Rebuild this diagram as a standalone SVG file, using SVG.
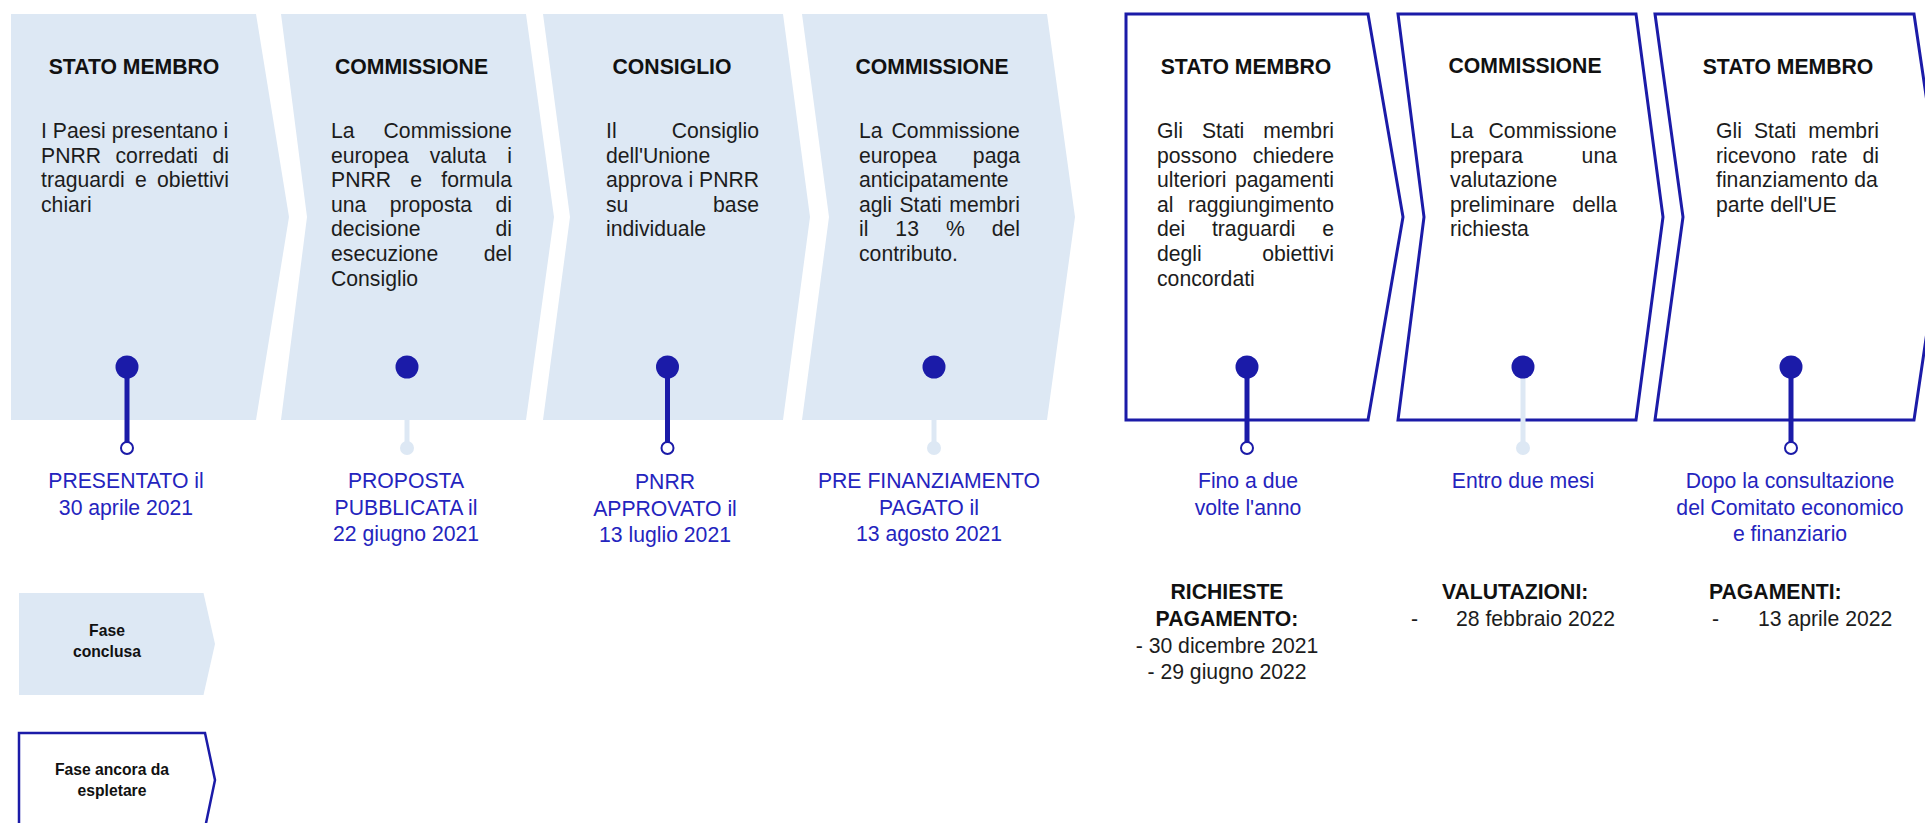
<svg xmlns="http://www.w3.org/2000/svg" width="1925" height="823" viewBox="0 0 1925 823">
<style>
text{font-family:"Liberation Sans",Arial,sans-serif;}
.done{fill:#DDE8F4;stroke:none;}
.todo{fill:#FFFFFF;stroke:#1B1BA8;stroke-width:3;stroke-linejoin:miter;}
.hd{font-size:21.2px;font-weight:bold;fill:#111111;text-anchor:middle;}
.bd{font-size:21.2px;fill:#1c1c1c;}
.lb{font-size:21.2px;fill:#2424BE;text-anchor:middle;}
.bt{font-size:21.2px;fill:#1c1c1c;}
.btb{font-size:21.2px;font-weight:bold;fill:#111111;}
.lg{font-size:15.7px;font-weight:bold;fill:#111111;text-anchor:middle;}
.dstem{stroke:#1B1BA8;stroke-width:5;}
.pstem{stroke:#DDE8F4;stroke-width:5;}
.big{fill:#1B1BA8;}
.hol{fill:#FFFFFF;stroke:#1B1BA8;stroke-width:2;}
.pal{fill:#DDE8F4;}
</style>

<g id="node-1">
<polygon class="done" points="11,14 256,14 289,217 256,420 11,420"/>
<text class="hd" x="134" y="74">STATO MEMBRO</text>
<text class="bd" x="41" y="138">I Paesi presentano i</text>
<text class="bd" x="41" y="162.6" word-spacing="8.6">PNRR corredati di</text>
<text class="bd" x="41" y="187.2" word-spacing="4.45">traguardi e obiettivi</text>
<text class="bd" x="41" y="211.8">chiari</text>
</g>

<g id="node-2">
<polygon class="done" points="281,14 526,14 554,217 526,420 281,420 307,217"/>
<text class="hd" x="411.5" y="74">COMMISSIONE</text>
<text class="bd" x="331" y="138" word-spacing="23.1">La Commissione</text>
<text class="bd" x="331" y="162.6" word-spacing="15.1">europea valuta i</text>
<text class="bd" x="331" y="187.2" word-spacing="13.35">PNRR e formula</text>
<text class="bd" x="331" y="211.8" word-spacing="17.45">una proposta di</text>
<text class="bd" x="331" y="236.4" word-spacing="69.1">decisione di</text>
<text class="bd" x="331" y="261" word-spacing="39.6">esecuzione del</text>
<text class="bd" x="331" y="285.6">Consiglio</text>
</g>

<g id="node-3">
<polygon class="done" points="543,14 783,14 810,217 783,420 543,420 570,217"/>
<text class="hd" x="672" y="74">CONSIGLIO</text>
<text class="bd" x="606" y="138" word-spacing="49.3">Il Consiglio</text>
<text class="bd" x="606" y="162.6">dell'Unione</text>
<text class="bd" x="606" y="187.2">approva i PNRR</text>
<text class="bd" x="606" y="211.8" word-spacing="78.8">su base</text>
<text class="bd" x="606" y="236.4">individuale</text>
</g>

<g id="node-4">
<polygon class="done" points="802,14 1047,14 1075,217 1047,420 802,420 829,217"/>
<text class="hd" x="932" y="74">COMMISSIONE</text>
<text class="bd" x="859" y="138" word-spacing="3.1">La Commissione</text>
<text class="bd" x="859" y="162.6" word-spacing="30.2">europea paga</text>
<text class="bd" x="859" y="187.2">anticipatamente</text>
<text class="bd" x="859" y="211.8" word-spacing="1.55">agli Stati membri</text>
<text class="bd" x="859" y="236.4" word-spacing="21.07">il 13 % del</text>
<text class="bd" x="859" y="261">contributo.</text>
</g>

<g id="node-5">
<polygon class="todo" points="1126,14 1368,14 1403,217 1368,420 1126,420"/>
<text class="hd" x="1246" y="74">STATO MEMBRO</text>
<text class="bd" x="1157" y="138" word-spacing="13.1">Gli Stati membri</text>
<text class="bd" x="1157" y="162.6" word-spacing="9.7">possono chiedere</text>
<text class="bd" x="1157" y="187.2" word-spacing="2.6">ulteriori pagamenti</text>
<text class="bd" x="1157" y="211.8" word-spacing="8.5">al raggiungimento</text>
<text class="bd" x="1157" y="236.4" word-spacing="20.75">dei traguardi e</text>
<text class="bd" x="1157" y="261" word-spacing="54.5">degli obiettivi</text>
<text class="bd" x="1157" y="285.6">concordati</text>
</g>

<g id="node-6">
<polygon class="todo" points="1398,14 1636,14 1663,217 1636,420 1398,420 1424,217"/>
<text class="hd" x="1525" y="73">COMMISSIONE</text>
<text class="bd" x="1450" y="138" word-spacing="9.1">La Commissione</text>
<text class="bd" x="1450" y="162.6" word-spacing="52.7">prepara una</text>
<text class="bd" x="1450" y="187.2">valutazione</text>
<text class="bd" x="1450" y="211.8" word-spacing="11.5">preliminare della</text>
<text class="bd" x="1450" y="236.4">richiesta</text>
</g>

<g id="node-7">
<polygon class="todo" points="1655,14 1914,14 1944,217 1914,420 1655,420 1683,217"/>
<text class="hd" x="1788" y="74">STATO MEMBRO</text>
<text class="bd" x="1716" y="138" word-spacing="6.1">Gli Stati membri</text>
<text class="bd" x="1716" y="162.6" word-spacing="9.05">ricevono rate di</text>
<text class="bd" x="1716" y="187.2" word-spacing="0.4">finanziamento da</text>
<text class="bd" x="1716" y="211.8">parte dell'UE</text>
</g>

<g id="connectors">
<line class="pstem" x1="407" y1="418" x2="407" y2="446"/>
<line class="pstem" x1="934" y1="418" x2="934" y2="446"/>
<line class="pstem" x1="1523" y1="367" x2="1523" y2="446"/>
<line class="dstem" x1="127" y1="367" x2="127" y2="443"/>
<line class="dstem" x1="667.5" y1="367" x2="667.5" y2="443"/>
<line class="dstem" x1="1247" y1="367" x2="1247" y2="443"/>
<line class="dstem" x1="1791" y1="367" x2="1791" y2="443"/>
<circle class="big" cx="127" cy="367" r="11.5"/>
<circle class="big" cx="407" cy="367" r="11.5"/>
<circle class="big" cx="667.5" cy="367" r="11.5"/>
<circle class="big" cx="934" cy="367" r="11.5"/>
<circle class="big" cx="1247" cy="367" r="11.5"/>
<circle class="big" cx="1523" cy="367" r="11.5"/>
<circle class="big" cx="1791" cy="367" r="11.5"/>
<circle class="hol" cx="127" cy="448" r="6"/>
<circle class="hol" cx="667.5" cy="448" r="6"/>
<circle class="hol" cx="1247" cy="448" r="6"/>
<circle class="hol" cx="1791" cy="448" r="6"/>
<circle class="pal" cx="407" cy="448" r="7"/>
<circle class="pal" cx="934" cy="448" r="7"/>
<circle class="pal" cx="1523" cy="448" r="7"/>
</g>

<g id="labels">
<text class="lb" x="126" y="488">PRESENTATO il</text>
<text class="lb" x="126" y="514.5">30 aprile 2021</text>
<text class="lb" x="406" y="488">PROPOSTA</text>
<text class="lb" x="406" y="514.5">PUBBLICATA il</text>
<text class="lb" x="406" y="541">22 giugno 2021</text>
<text class="lb" x="665" y="489">PNRR</text>
<text class="lb" x="665" y="515.5">APPROVATO il</text>
<text class="lb" x="665" y="542">13 luglio 2021</text>
<text class="lb" x="929" y="488">PRE FINANZIAMENTO</text>
<text class="lb" x="929" y="514.5">PAGATO il</text>
<text class="lb" x="929" y="541">13 agosto 2021</text>
<text class="lb" x="1248" y="488">Fino a due</text>
<text class="lb" x="1248" y="514.5">volte l'anno</text>
<text class="lb" x="1523" y="488">Entro due mesi</text>
<text class="lb" x="1790" y="488">Dopo la consultazione</text>
<text class="lb" x="1790" y="514.5">del Comitato economico</text>
<text class="lb" x="1790" y="541">e finanziario</text>
</g>

<g id="schedule">
<text class="btb" x="1227" y="599" text-anchor="middle">RICHIESTE</text>
<text class="btb" x="1227" y="626" text-anchor="middle">PAGAMENTO:</text>
<text class="bt" x="1227" y="652.7" text-anchor="middle">- 30 dicembre 2021</text>
<text class="bt" x="1227" y="679.3" text-anchor="middle">- 29 giugno 2022</text>
<text class="btb" x="1442" y="599">VALUTAZIONI:</text>
<text class="bt" x="1411" y="626">-</text>
<text class="bt" x="1456" y="626">28 febbraio 2022</text>
<text class="btb" x="1709" y="599">PAGAMENTI:</text>
<text class="bt" x="1712" y="626">-</text>
<text class="bt" x="1758" y="626">13 aprile 2022</text>
</g>

<g id="legend-done">
<polygon class="done" points="19,593 203.5,593 215,644 203.5,695 19,695"/>
<text class="lg" x="107" y="636">Fase</text>
<text class="lg" x="107" y="657">conclusa</text>
</g>

<g id="legend-todo">
<polygon class="todo" points="19,733 205,733 215,780 205,828 19,828" style="stroke-width:2.5"/>
<text class="lg" x="112" y="775">Fase ancora da</text>
<text class="lg" x="112" y="796">espletare</text>
</g>
</svg>
